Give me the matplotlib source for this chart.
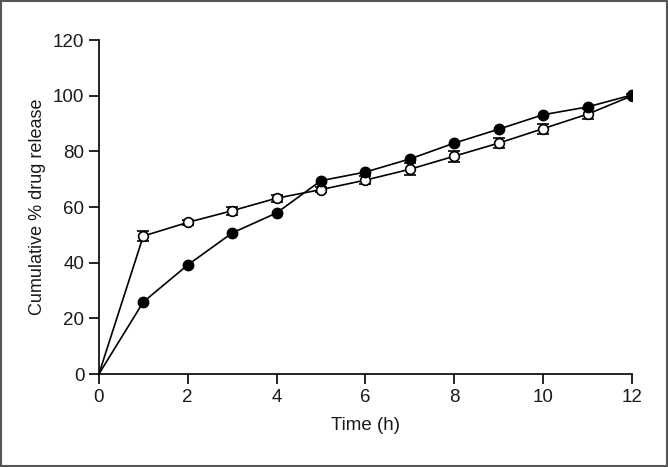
import matplotlib
matplotlib.use("Agg")
import matplotlib.pyplot as plt
from matplotlib.patches import Rectangle

plt.rcParams['font.family'] = ['Liberation Sans', 'DejaVu Sans']

time_h = [0, 1, 2, 3, 4, 5, 6, 7, 8, 9, 10, 11, 12]
filled = [0, 25.9, 39.2, 50.7, 57.9, 69.5, 72.6, 77.3, 83.0, 88.0, 93.2, 96.0, 100.3]
open_ = [0, 49.6, 54.5, 58.7, 63.2, 66.3, 69.7, 73.6, 78.3, 83.0, 88.2, 93.4, 100.0]
open_err = [0, 1.8, 0.8, 1.4, 1.2, 0.8, 1.5, 2.2, 2.0, 1.7, 1.8, 1.8, 0.8]

txt = '#1a1a1a'
fig = plt.figure(figsize=(6.68, 4.67), dpi=100)
ax = fig.add_axes([0.148, 0.199, 0.798, 0.715])

ax.plot(time_h, open_, color='black', linewidth=1.2, zorder=2)
ax.errorbar(time_h[1:], open_[1:], yerr=open_err[1:], fmt='o', color='black', markersize=7,
            markerfacecolor='white', markeredgecolor='black', markeredgewidth=1.2,
            capsize=4, elinewidth=1.0, capthick=1.0, zorder=3)
ax.plot(time_h, filled, color='black', linewidth=1.2, zorder=4)
ax.plot(time_h[1:], filled[1:], 'o', color='black', markersize=7.5, zorder=5)

ax.set_xlim(0, 12)
ax.set_ylim(0, 120)
ax.set_xticks(range(0, 13, 2))
ax.set_yticks(range(0, 121, 20))
ax.spines['top'].set_visible(False)
ax.spines['right'].set_visible(False)
ax.spines['left'].set_linewidth(1.2)
ax.spines['bottom'].set_linewidth(1.2)
ax.tick_params(direction='out', length=7, width=1.2, labelsize=13.5, colors='black',
               labelcolor=txt)
ax.set_xlabel('Time (h)', fontsize=13.5, labelpad=8, color=txt)
ax.set_ylabel('Cumulative % drug release', fontsize=13, labelpad=5, color=txt)

fig.patches.append(Rectangle((0.002, 0.002), 0.996, 0.996, transform=fig.transFigure,
                             fill=False, edgecolor='#555555', linewidth=1.5))

fig.savefig('out.png', dpi=100)
